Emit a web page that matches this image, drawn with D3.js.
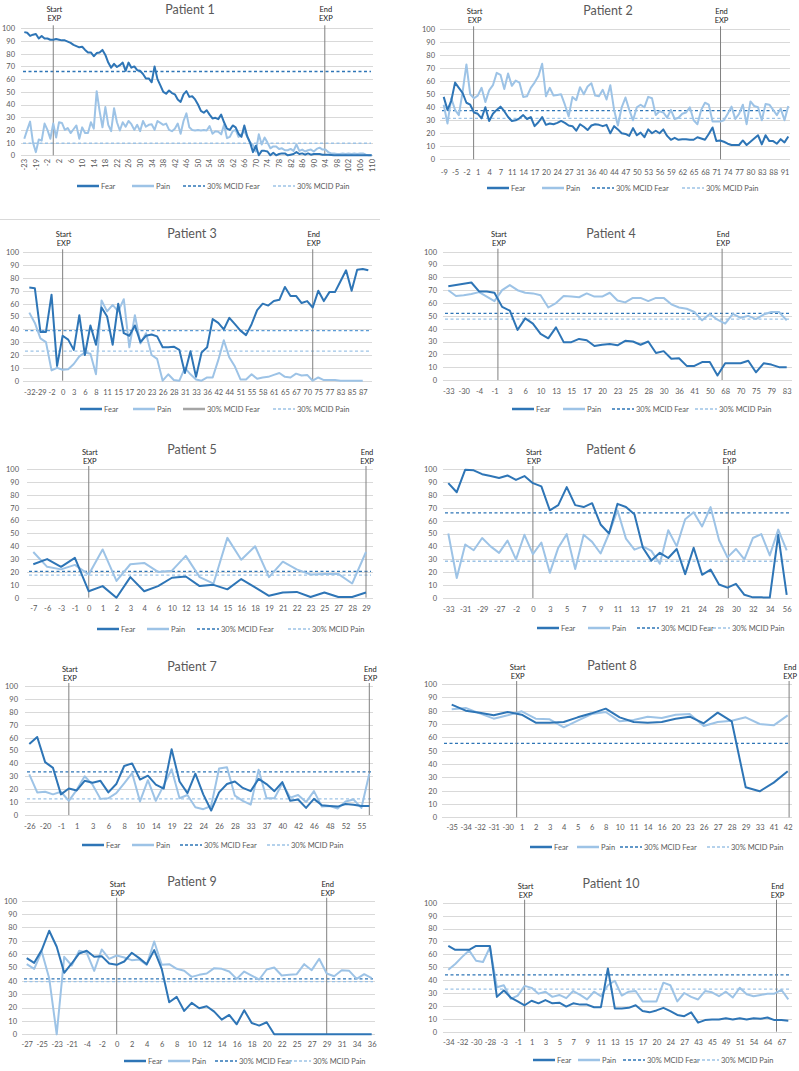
<!DOCTYPE html>
<html><head><meta charset="utf-8">
<script src="https://cdn.jsdelivr.net/npm/d3@7"></script>
<style>
body{margin:0;background:#fff}
svg{display:block}
text{font-family:Lato,"Liberation Sans",sans-serif}
</style>
</head><body>
<svg id="c" width="799" height="1071"></svg>
<script>
// ---------------- DATA ----------------
const titles = ["Patient 1","Patient 2","Patient 3","Patient 4","Patient 5","Patient 6","Patient 7","Patient 8","Patient 9","Patient 10"];
const legendLabels = ["Fear","Pain","30% MCID Fear","30% MCID Pain"];

const ticks1 = ["-23","-19","-2","2","6","10","14","18","22","26","30","34","38","42","46","50","54","58","62","66","70","74","78","82","86","90","94","98","102","106","110"];
const fear1 = [97,96.5,94,95,95.5,92,94,92,92,91, 91,91.5,91,90.5,90.5,89.5,88.5,87,86,85, 85.5,83,81,81,78,80.5,81,83,79,73, 69,72,69.5,71,73,66.5,73,69,70,67, 66.5,64,60.5,60.5,57.5,70,60,55,50,48.5, 51,49,48,44,42,48,50.5,46,46.5,44, 40,35,33.5,35.5,32,29,29.5,28.5,32,26, 21,20,23.5,22,17,14.5,23.5,15,10,2.5, 7.5,0,3.5,3.5,3,0,2,0,1,1.5, 1.5,0,0.5,1,2.5,1,1.5,0.5,1.5,0.5, 1,1,1,0.5,0.5,0.5,0.3,0,0,0, 0,0,0,0,0,0,0,0,0,0, 0];
const pain1 = [13,20,26.5,10,2.5,12.5,11.5,25,20,13, 25,14,26,25.5,20,21.5,17.5,20.5,23.5,13, 22,17.5,17.5,26,21,50.5,35,22,38,24, 19,37,26,19.5,26,22.5,27,24.5,20,24, 19,27,22.5,24,24.5,20,27,25.5,24,25, 20,19,21,25,17,27,33,22,20,19.5, 20,19.5,20,19.5,23,17,19,18.5,16.5,24, 13.5,14.5,19,20,14.5,16.5,19,14.5,10,8, 3,16.5,8.5,14,10,5.5,7,7,5,5.5, 4,4,5,3.5,8.5,3.5,4.5,3,4,4.5, 3,5,6,4.5,4.5,2.5,1.5,1.5,1,1, 1.5,1,1.5,1,1.5,1,1.5,1.5,0.5,0, 0];

const ticks2 = ["-9","-5","-2","1","4","7","11","14","17","20","24","27","31","36","40","44","47","50","53","56","59","62","65","68","71","74","77","80","83","88","91"];
const fear2 = [48,38,45,59,55,51,43.5,42,36,35, 31.5,40,29.5,35,38,40.5,37,32.5,29.5,30, 31.5,34,31,32.5,25.5,28.5,32.5,26.5,27.5,27, 28,29.5,28,26,25.5,22,27,25,22.5,26, 27,26.5,25.5,26.5,20,25.5,23,20,19.5,18, 24,18.5,20.5,17,23,20,22,20,23,18, 15,16.5,15,15.5,15.5,15,15,17,16,15, 19.5,24.5,14,14.5,13.5,12,11,11,11,14.5, 11,13.5,16,18.5,11.5,18.5,14,14,12,15.5, 13,17.5];
const pain2 = [42,27.5,47,38,34,52,73,50,47,49, 55,44,53,57,66.5,65,54,66,56.5,60.5, 59,48,48.5,55,59,64,73.5,48.5,55,49, 49.5,50,42,33,48,45.5,55.5,50,56,58.5, 49,48.5,53.5,46,57,38,26,40,47.5,38, 30,40,42,40,48,47,34,37,36,32, 38,31,32,35,36,40,30,27,38,43.5, 42,29,29,29,30,35,40.5,31,35,42, 27,44.5,41,40,30,42.5,42,38,34,39, 30,41];

const ticks3 = ["-32","-29","-2","0","3","6","8","11","15","17","20","23","26","28","31","33","36","42","44","51","55","58","61","65","67","70","75","77","83","85","87"];
const fear3 = [72.5,72,38,38,67,11.5,35,32,24,51, 20,43,28,57,50,28,60,37,35,43, 30,35,36,34.5,26,26,26.5,24,6,23, 3,22,26,48,45,40,49,44,39,35.5, 44,55,60,58.5,62,63,73,66,66,60.5, 62,57,70,62,69,69,77.5,86,70,86.5, 87,86];
const pain3 = [53,45,33,30,8,10,8.5,9,13,19, 22,21,5,62.5,54,59,54,63.5,26,51, 29,37,20,17,0,5,0.5,0,10,5, 1,0,2.5,2.5,16,31.5,18,11,1,1, 5,1.5,2.5,3,4.5,6,3,2.5,5.5,4, 4.5,0,2.5,0.5,0.5,0.5,0,0,0,0, 0,null];

const ticks4 = ["-33","-30","-4","-1","3","6","10","13","15","17","20","23","25","28","30","36","41","50","68","70","75","79","83"];
const fear4 = [73,74,75,76,69,69,68,57,54,39, 48,44,36,32.5,41,29.5,29.5,32,31,26.5, 27.5,28,27,30.5,30,27.5,30,21,22.5,16.5, 17,11,11,14,14,3.5,13,13,13,15, 6,13,12,10,10];
const pain4 = [70,65.5,66,67,68.5,65,61.5,70,74,70, 68,67.5,66,56.5,60,65.5,65,64.5,67.5,65, 65,68,62,60.5,64,64,61.5,64,64,59, 56.5,55.5,53,46.5,51.5,47,44,51.5,48.5,50, 47.5,51,53,53,46.5];

const ticks5 = ["-7","-6","-3","-1","0","1","2","3","4","6","10","12","13","14","15","16","18","19","21","22","23","25","27","28","29"];
const fear5 = [26,30,24,31,5,9,0,16,5,9,15.5,16.5,9,10,6.5,14.5,8,1.5,4,4.5,0.5,4,0.5,0.5,4];
const pain5 = [35.5,24,22,25.5,18,37.5,13,26,27,20,21,32.5,16,11,46.5,29.5,40,16,28,22,18,18.5,18.5,11,35.5];

const ticks6 = ["-33","-31","-29","-27","-2","0","3","5","7","9","11","13","17","19","21","24","28","30","32","34","56"];
const fear6 = [89,82,99.5,99,96,94.5,93,95,91.5,94.5, 89,86.5,68,72,86,72,70.5,73.5,57,50, 73,70.5,65,39,29,35,31,38,18.5,39, 18,22,10.5,8,11,2.5,0.5,0.5,0.3,49, 2.5];
const pain6 = [50,15.5,41.5,37,46.5,40,35,44.5,30,49, 34,43,19.5,39,49.5,22.5,49,43.5,34.5,50, 68,46,37.5,40,36.5,26.5,52.5,40,61,66.5, 55.5,70.5,45,31.5,38,30,46.5,49.5,33,53, 37];

const ticks7 = ["-26","-20","-1","1","3","6","8","10","14","19","22","24","26","28","33","37","40","42","46","48","52","55"];
const fear7 = [55,60.5,41,36.5,16,20.5,19,26.5,25,26.5, 17.5,24,38,40,27.5,30.5,23.5,20.5,51,26, 17,32,16,3.5,17.5,24,26,21,18.5,28, 24,18.5,25.5,11,12,5.5,12.5,7.5,7,6.5, 8.5,8,7,7];
const pain7 = [31.5,17.5,18,16,18,11,19.5,30,23.5,12.5, 13,17,24.5,32.5,10.5,27,11,23,35.5,13, 15.5,6,4.5,7,36,37,15,11,8,35, 13,13,24.5,13.5,15.5,10,18.5,6.5,7,5, 10.5,12,5.5,32];

const ticks8 = ["-35","-34","-32","-31","-30","1","2","3","4","5","6","8","10","11","14","16","20","23","26","27","28","29","33","41","42"];
const fear8 = [84.5,80,78.5,76.5,79,77,71,71,71.5,75,78,81.5,75,71.5,71,71.5,74,75.5,70.5,78.5,72,22.5,19.5,26,34.5];
const pain8 = [81,82,78,74,76.5,79.5,74,73.5,67.5,72.5,77.5,79,72,73,75.5,74.5,77,77.5,68.5,71.5,72.5,75,70,69,76.5];

const ticks9 = ["-27","-25","-23","-21","-4","-2","0","2","4","6","8","10","12","14","16","18","20","22","25","27","29","31","34","36"];
const fear9 = [57,53.5,63,77.5,65.5,46,53,60.5,62.5,58, 58.5,53,52,54.5,61,57,52.5,63,49,24, 28,17.5,23.5,19.5,21,17,11,14.5,7.5,18, 8.5,6.5,9,0,0,0,0,0,0,0, 0,0,0,0,0,0,0];
const pain9 = [52.5,49,62,42,0,58,51.5,62.5,61,47.5, 63.5,56.5,59,57.5,55.5,56,52,69.5,52,52.5, 49,47.5,43,44.5,45.5,49.5,49,47,41.5,47, 44,41,48.5,50,44,44.5,45,52.5,48,56.5, 45.5,43.5,48,47.5,41.5,45,42];

const ticks10 = ["-34","-32","-30","-28","-3","-1","1","3","5","7","9","11","13","15","17","20","24","27","43","45","49","51","54","64","67"];
const fear10 = [66.5,63.5,63.5,63.5,66.5,66.5,66.5,27,32,26.5, 23.5,20.5,24,22,24.5,22,22.5,19.5,22,21, 21,19,19,49,18,18,18.5,20.5,16,15, 16.5,18.5,16,13,12,15,7,9,9.5,9.5, 10.5,9.5,10.5,9.5,10.5,10,11,9,9,8.5];
const pain10 = [48,52.5,58,63,55,54,65.5,34.5,36,25.5, 28,35.5,34,29.5,31,27,28.5,26,31.5,28.5, 25,31,27.5,36,39.5,28,31,31.5,23.5,23.5, 23.5,38,36,23.5,30,27,25,31.5,30.5,27.5, 31,26.5,34,29,27.5,28.5,29.5,29.5,32.5,25];

// thresholds (30% MCID) and treatment events (category positions)
const mcidFear = [66, 37.5, 39, 52, 20.5, 66, 33.5, 55.5, 41.5, 44];
const mcidPain = [9.5, 31.5, 23, 47.5, 17.5, 28.5, 12.5, null, 39.5, 33];
const startExp = [10, 7.9, 6, 6.45, 4, 10, 5, 4.64, 12, 11];
const endExp = [103.8, 73.1, 51, 35.6, 24, 33.1, 43, 24.1, 40, 47.3];
const tickEvery = [4, 3, 2, 2, 1, 2, 2, 1, 2, 2];
const yTicks = [0,10,20,30,40,50,60,70,80,90,100];

const fears = [fear1,fear2,fear3,fear4,fear5,fear6,fear7,fear8,fear9,fear10];
const pains = [pain1,pain2,pain3,pain4,pain5,pain6,pain7,pain8,pain9,pain10];
const tickSets = [ticks1,ticks2,ticks3,ticks4,ticks5,ticks6,ticks7,ticks8,ticks9,ticks10];

// ---------------- LAYOUT ----------------
const layout = [
 {x0:24.3,x1:371.7,yTop:28.3,yBot:155.3,gx0:21,gx1:373,yLab:15,xLabY:158,rot:true,legY:186,legX:[77,132,183,273],tx:190,ty:9.3,evY:9.5},
 {x0:443.7,x1:788.3,yTop:29.3,yBot:159.3,gx0:440,gx1:790,yLab:435,xLabY:172.7,legY:188,legX:[487,542,592,682],tx:608,ty:11,evY:11.7},
 {x0:29.3,x1:368.3,yTop:252.3,yBot:380.7,gx0:23,gx1:372,yLab:19,xLabY:392.7,legY:409,legX:[80,133,183,273],tx:192,ty:234,evY:234},
 {x0:448.3,x1:786.7,yTop:251.7,yBot:380,gx0:443,gx1:792,yLab:437,xLabY:391.7,legY:409,legX:[512,563,612,695],tx:611,ty:234,evY:234.3},
 {x0:33.3,x1:366,yTop:469,yBot:597.7,gx0:27,gx1:373,yLab:19,xLabY:608.3,legY:629,legX:[97,147,197,288],tx:192,ty:450,evY:452},
 {x0:448.3,x1:786.7,yTop:469,yBot:598,gx0:443,gx1:792,yLab:437,xLabY:609,legY:628,legX:[537,588,637,708],tx:611,ty:450,evY:452},
 {x0:29.3,x1:369.3,yTop:686,yBot:815,gx0:25,gx1:373,yLab:18,xLabY:826.7,legY:845,legX:[82,132,180,267],tx:192,ty:667,evY:669},
 {x0:451.7,x1:787.7,yTop:684,yBot:817.3,gx0:442,gx1:792,yLab:437,xLabY:827.7,legY:847,legX:[530,577,620,707],tx:612,ty:666,evY:667.3},
 {x0:26.7,x1:371.7,yTop:900.7,yBot:1034.3,gx0:22,gx1:375,yLab:17,xLabY:1044.3,legY:1061,legX:[124,168,215,289],tx:192,ty:882,evY:884},
 {x0:448.3,x1:788.3,yTop:902.7,yBot:1031.7,gx0:443,gx1:792,yLab:437,xLabY:1042.7,legY:1060,legX:[533,578,623,697],tx:611,ty:884,evY:886}
];

const C = {fear:"#2E75B6", pain:"#9DC3E6", mf:"#2E75B6", mp:"#9DC3E6", grid:"#D9D9D9", txt:"#595959", ev:"#808080"};

const svg = d3.select("#c");
svg.append("rect").attr("width",799).attr("height",1071).attr("fill","#fff");
// chart separator
svg.append("line").attr("x1",0).attr("x2",380).attr("y1",219.5).attr("y2",219.5).attr("stroke","#D9D9D9").attr("stroke-width",1);

layout.forEach((L, p) => {
  const fear = fears[p], pain = pains[p], tl = tickSets[p], k = tickEvery[p];
  const n = fear.length;
  const g = svg.append("g");
  const x = d3.scaleLinear().domain([0, n-1]).range([L.x0, L.x1]);
  const y = d3.scaleLinear().domain([0, 100]).range([L.yBot, L.yTop]);

  // gridlines
  g.selectAll("line.grid").data(yTicks).join("line")
    .attr("x1", L.gx0).attr("x2", L.gx1)
    .attr("y1", d => Math.round(y(d)) + 0.5).attr("y2", d => Math.round(y(d)) + 0.5)
    .attr("stroke", C.grid).attr("stroke-width", 1);

  // y axis labels
  const ya = g.append("g").attr("transform", `translate(${L.yLab},0)`)
    .call(d3.axisLeft(y).tickValues(yTicks).tickSize(0).tickPadding(0));
  ya.select(".domain").remove();
  ya.selectAll("text").attr("fill", C.txt).style("font-size", "7.5px").style("font-family","Lato");

  // x axis labels
  const tv = d3.range(0, n, k).filter((v, i) => i < tl.length);
  const xAxis = d3.axisBottom(x).tickValues(tv).tickFormat(v => tl[Math.round(v / k)]).tickSize(0).tickPadding(0);
  const xa = g.append("g").attr("transform", `translate(0,${L.rot ? L.xLabY : L.xLabY - 2.7})`).call(xAxis);
  xa.select(".domain").remove();
  xa.selectAll("text").attr("fill", C.txt).style("font-size", "7.5px").style("font-family","Lato");
  if (L.rot) {
    xa.selectAll("text").attr("transform", "rotate(-90)").attr("text-anchor", "end")
      .attr("x", -1).attr("y", 0).attr("dy", "0.32em");
  } else {
    xa.selectAll("text").attr("y", 0).attr("dy", "0.71em");
  }

  // MCID threshold lines
  const mcidF = mcidFear[p], mcidP = mcidPain[p];
  const fCol = p === 2 ? "#5B9BD5" : C.mf;
  if (mcidF != null) g.append("line").attr("x1", L.gx0 + 2).attr("x2", L.gx1 - 2)
    .attr("y1", y(mcidF)).attr("y2", y(mcidF)).attr("stroke", fCol).attr("stroke-width", 1.3).attr("stroke-dasharray", "3,2.5");
  if (mcidP != null) g.append("line").attr("x1", L.gx0 + 2).attr("x2", L.gx1 - 2)
    .attr("y1", y(mcidP)).attr("y2", y(mcidP)).attr("stroke", C.mp).attr("stroke-width", 1.3).attr("stroke-dasharray", "3,2.5");

  // exposure event lines
  [[startExp[p], "Start"], [endExp[p], "End"]].forEach(([pos, lab]) => {
    const xx = x(pos);
    g.append("line").attr("x1", xx).attr("x2", xx).attr("y1", L.yTop - 3).attr("y2", L.yBot)
      .attr("stroke", C.ev).attr("stroke-width", 1);
    const t = g.append("text").attr("x", xx + 1).attr("y", L.evY).attr("text-anchor", "middle")
      .attr("fill", "#222").style("font-size", "7.5px");
    t.append("tspan").attr("x", xx + 1).attr("dy", "0.35em").text(lab);
    t.append("tspan").attr("x", xx + 1).attr("dy", "1.2em").text("EXP");
  });

  // data lines
  const line = d3.line().defined(d => d != null).x((d, i) => x(i)).y(d => y(d));
  g.append("path").datum(pain).attr("d", line).attr("fill", "none").attr("stroke", C.pain)
    .attr("stroke-width", 2).attr("stroke-linejoin", "round");
  g.append("path").datum(fear).attr("d", line).attr("fill", "none").attr("stroke", C.fear)
    .attr("stroke-width", 2).attr("stroke-linejoin", "round");

  // title
  g.append("text").attr("x", L.tx).attr("y", L.ty).attr("dy", "0.35em").attr("text-anchor", "middle")
    .attr("fill", C.txt).style("font-size", "12.5px").text(titles[p]);

  // legend
  const legStyles = [
    {c: C.fear, w: 2.5, d: null},
    {c: C.pain, w: 2.5, d: null},
    p === 2 ? {c: "#A5A5A5", w: 2.5, d: null} : {c: C.mf, w: 1.3, d: "3,2"},
    {c: C.mp, w: 1.3, d: "3,2"}
  ];
  legendLabels.forEach((lab, i) => {
    const lx = L.legX[i], s = legStyles[i];
    const ln = g.append("line").attr("x1", lx).attr("x2", lx + 22).attr("y1", L.legY).attr("y2", L.legY)
      .attr("stroke", s.c).attr("stroke-width", s.w);
    if (s.d) ln.attr("stroke-dasharray", s.d);
    g.append("text").attr("x", lx + 24).attr("y", L.legY).attr("dy", "0.35em").attr("fill", C.txt)
      .style("font-size", "7.5px").text(lab);
  });
});
</script>
</body></html>
